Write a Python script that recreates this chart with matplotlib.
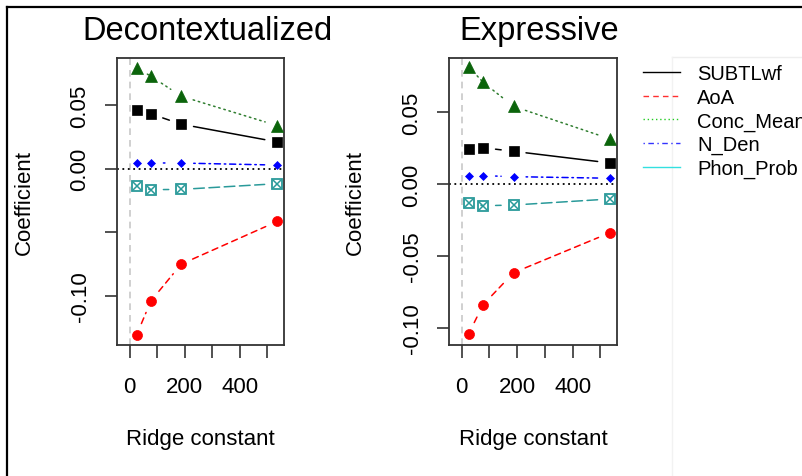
import matplotlib
matplotlib.use('Agg')
import matplotlib.pyplot as plt
from matplotlib.lines import Line2D

plt.rcParams['font.family'] = ['Liberation Sans', 'DejaVu Sans']

# ridge constants (same for both panels)
ridge_k = [25, 77, 187, 535]

# Decontextualized coefficients
dec_subtl = [0.0464, 0.0430, 0.0349, 0.0210]
dec_aoa = [-0.1307, -0.1039, -0.0750, -0.0415]
dec_conc = [0.0792, 0.0726, 0.0569, 0.0338]
dec_nden = [0.0045, 0.0045, 0.0044, 0.0028]
dec_phon = [-0.0134, -0.0165, -0.0163, -0.0118]

# Expressive coefficients
exp_subtl = [0.0243, 0.0252, 0.0227, 0.0146]
exp_aoa = [-0.1040, -0.0838, -0.0616, -0.0338]
exp_conc = [0.0815, 0.0706, 0.0539, 0.0313]
exp_nden = [0.0058, 0.0058, 0.0051, 0.0040]
exp_phon = [-0.0134, -0.0151, -0.0146, -0.0104]

predictors = ['SUBTLwf', 'AoA', 'Conc_Mean', 'N_Den', 'Phon_Prob']
panel_titles = ['Decontextualized', 'Expressive']
x_ticks = [0, 100, 200, 300, 400, 500]
x_ticklabels = ['0', '', '200', '', '400', '']
y_ticks = [-0.10, -0.05, 0.00, 0.05]
y_ticklabels = [['-0.10', '', '0.00', '0.05'], ['-0.10', '-0.05', '0.00', '0.05']]

# styles: line colour, dash, marker, marker colour, marker size
styles = [
    ('black', '-', 's', 'black', 6.8),
    ('red', (0, (4, 3)), 'o', 'red', 7.2),
    ('#2e7d2e', (0, (1, 2.5)), '^', '#0b640b', 8.2),
    ('blue', (0, (1, 2.5, 4, 2.5)), 'D', 'blue', 4.3),
    ('#2a9a9a', (0, (7, 3)), 's', '#2a9a9a', 7.2),
]
legend_cols = ['black', '#ff3030', '#22cc22', '#3333ff', '#33e0e0']
legend_ls = ['-', (0, (4, 3)), (0, (1, 2)), (0, (1, 2.5, 4, 2.5)), '-']

W, H = 802, 477
fig = plt.figure(figsize=(W / 100, H / 100), dpi=100)

def fx(px):
    return px / W

def fy(py):
    return 1 - py / H

panels = [
    (117, 284, [dec_subtl, dec_aoa, dec_conc, dec_nden, dec_phon], (-0.1385, 0.0869)),
    (449, 617, [exp_subtl, exp_aoa, exp_conc, exp_nden, exp_phon], (-0.1118, 0.0875)),
]
top, bottom = 59, 346

for p, (x0, x1, series, ylim) in enumerate(panels):
    ax = fig.add_axes([fx(x0), fy(bottom), fx(x1 - x0), (bottom - top) / H])
    ax.set_xlim(-46, 560)
    ax.set_ylim(*ylim)

    # reference lines
    ax.axvline(0, color='#c8c8c8', lw=1.2, ls=(0, (4, 3)), zorder=1)
    ax.axhline(0, color='black', lw=1.3, ls=(0, (1, 2)), zorder=1)

    for vals, (lc, ls, mk, mc, ms) in zip(series, styles):
        # lines broken around points, like R type="b"
        for i in range(len(ridge_k) - 1):
            ax.annotate('', xy=(ridge_k[i + 1], vals[i + 1]), xytext=(ridge_k[i], vals[i]),
                        arrowprops=dict(arrowstyle='-', shrinkA=9, shrinkB=9,
                                        color=lc, lw=1.1, linestyle=ls))
        if mk == 's' and mc == '#2a9a9a':
            ax.plot(ridge_k, vals, ls='none', marker='s', ms=ms, mfc='none', mec=mc, mew=1.3, zorder=3)
            ax.plot(ridge_k, vals, ls='none', marker='x', ms=ms - 1.2, mec=mc, mew=1.1, zorder=3)
        else:
            ax.plot(ridge_k, vals, ls='none', marker=mk, ms=ms, color=mc, mec=mc, mew=0.5, zorder=3)

    ax.set_xticks(x_ticks)
    ax.set_xticklabels(x_ticklabels)
    ax.set_yticks(y_ticks)
    ax.set_yticklabels(y_ticklabels[p], rotation=90, va='center')
    ax.tick_params(length=9, width=1.2, color='#333333', labelsize=16)
    ax.tick_params(axis='x', pad=13)
    ax.tick_params(axis='y', pad=10)
    for s in ax.spines.values():
        s.set_color('#333333')
        s.set_linewidth(1.3)

    ax.set_xlabel('Ridge constant', fontsize=16, va='center')
    ax.xaxis.set_label_coords(0.5, (bottom - 440) / (bottom - top))
    ax.set_ylabel('Coefficient', fontsize=16, va='center')
    ax.yaxis.set_label_coords((24 + 331 * p - x0) / (x1 - x0), 0.5)
    ax.set_title(panel_titles[p], fontsize=23.5, va='baseline', pad=0,
                 x=[0.542, 0.534][p], y=(bottom - 40) / (bottom - top))

# legend (R default palette colours), clipped at the right edge like the screenshot
handles = [Line2D([], [], color=c, ls=l, lw=1.0) for c, l in zip(legend_cols, legend_ls)]
fig.legend(handles, predictors, loc='upper left', bbox_to_anchor=(fx(643), fy(65)),
           frameon=False, fontsize=14.5, handlelength=1.85, handletextpad=0.85,
           labelspacing=0.23, borderaxespad=0, borderpad=0)

# page frame of the screenshot
fig.add_artist(Line2D([fx(7), fx(7)], [fy(8), 0], color='black', lw=1.6))
fig.add_artist(Line2D([fx(7), 1], [fy(8), fy(8)], color='black', lw=1.6))
fig.add_artist(Line2D([fx(672), 1], [fy(58), fy(58)], color='#eeeeee', lw=1))
fig.add_artist(Line2D([fx(672), fx(672)], [fy(58), 0], color='#f2f2f2', lw=1))

plt.savefig('out.png', dpi=100)
